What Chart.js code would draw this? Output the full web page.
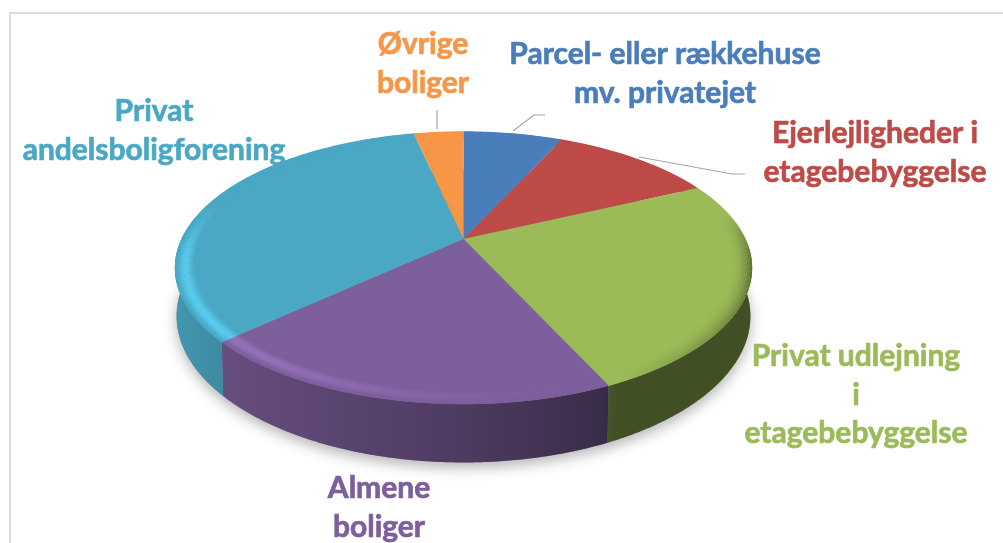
<!DOCTYPE html>
<html>
<head>
<meta charset="utf-8">
<style>
  html, body { margin: 0; padding: 0; background: #fff; }
  #wrap { width: 1003px; height: 543px; }
</style>
<script src="https://cdn.jsdelivr.net/npm/chart.js@4"></script>
</head>
<body>
<div id="wrap"><canvas id="pie" width="1003" height="543"></canvas></div>
<script>
const categories = [
  'Parcel- eller rækkehuse\nmv. privatejet',
  'Ejerlejligheder i\netagebebyggelse',
  'Privat udlejning\ni\netagebebyggelse',
  'Almene\nboliger',
  'Privat\nandelsboligforening',
  'Øvrige\nboliger'
];
const shares = [6.8, 11.2, 25.2, 19.9, 33.5, 3.4];
const sliceColors = ['#4a7ebb', '#be4b48', '#9bbb59', '#7d5f9c', '#4aa8c4', '#f79646'];

// centre of each label block, first baseline
const labelPlaces = [[665, 64], [875, 143], [856, 366], [379, 498], [154, 121], [423, 54]];
const leaders = [
  [[513, 131], [534, 115], [545, 115]],
  [[639, 157], [732, 174], [745, 174]],
  [[437, 110], [437, 129]]
];
// wall brightness left to right, x and factor
const wallStops = [[174, 0.9], [240, 0.8], [460, 0.62], [600, 0.47], [620, 0.42], [760, 0.42]];

// tilt of the disc: circle -> perspective ellipse
const TILT = 0.213, SQUASH = 0.4605, DEPTH = 46, BEVEL = 0.07;

function project(arc, a, r, drop) {
  let u = Math.cos(a) * r, v = Math.sin(a) * r;
  let w = 1 - TILT * v;
  let shrink = drop ? 0.994 : 1;
  return [
    arc.x + arc.outerRadius * shrink * u / w,
    arc.y + arc.outerRadius * SQUASH * v / w + (drop ? drop / w : 0)
  ];
}

function rgb(hex) {
  return [1, 3, 5].map(i => parseInt(hex.substr(i, 2), 16));
}
function shade(c, f) {
  return 'rgb(' + c.map(x => Math.min(255, Math.round(x * f))).join(',') + ')';
}
function clamp01(x) {
  return Math.max(0, Math.min(1, x));
}

const disc3d = {
  id: 'disc3d',
  beforeDatasetsDraw(chart) {
    let ctx = chart.ctx;
    let arcs = chart.getDatasetMeta(0).data;
    let step = Math.PI / 360;

    // frame
    ctx.save();
    ctx.strokeStyle = '#dcdcdc';
    ctx.lineWidth = 2;
    ctx.beginPath();
    ctx.moveTo(10, 543);
    ctx.lineTo(10, 13);
    ctx.lineTo(1003, 13);
    ctx.stroke();
    ctx.restore();

    // soft shadow under the disc
    ctx.save();
    ctx.shadowColor = 'rgba(0,0,0,0.3)';
    ctx.shadowBlur = 14;
    ctx.shadowOffsetY = 5;
    ctx.fillStyle = '#888';
    ctx.beginPath();
    for (let a = 0; a < Math.PI * 2; a += step) {
      let p = project(arcs[0], a, 1, DEPTH);
      ctx.lineTo(p[0], p[1]);
    }
    ctx.closePath();
    ctx.fill();
    ctx.restore();

    // side walls, one gradient per slice
    arcs.forEach((arc, i) => {
      let c = rgb(sliceColors[i]);
      let grad = ctx.createLinearGradient(174, 0, 760, 0);
      wallStops.forEach(s => grad.addColorStop((s[0] - 174) / (760 - 174), shade(c, s[1])));
      ctx.fillStyle = grad;
      let from = Math.max(arc.startAngle, 0.05);
      let to = Math.min(arc.endAngle, Math.PI + 0.05);
      if (to <= from) return;
      ctx.beginPath();
      for (let a = from; a < to; a += step) {
        let p = project(arc, a, 1, 0);
        ctx.lineTo(p[0], p[1]);
      }
      let e = project(arc, to, 1, 0);
      ctx.lineTo(e[0], e[1]);
      for (let a = to; a > from; a -= step) {
        let p = project(arc, a, 1, DEPTH);
        ctx.lineTo(p[0], p[1]);
      }
      let s = project(arc, from, 1, DEPTH);
      ctx.lineTo(s[0], s[1]);
      ctx.closePath();
      ctx.fill();
    });

    // top faces
    arcs.forEach((arc, i) => {
      ctx.fillStyle = sliceColors[i];
      ctx.beginPath();
      let o = project(arc, 0, 0, 0);
      ctx.moveTo(o[0], o[1]);
      for (let a = arc.startAngle; a < arc.endAngle; a += step) {
        let p = project(arc, a, 1, 0);
        ctx.lineTo(p[0], p[1]);
      }
      let e = project(arc, arc.endAngle, 1, 0);
      ctx.lineTo(e[0], e[1]);
      ctx.closePath();
      ctx.fill();
    });

    // rounded rim, lit from the lower left, dark towards the right
    arcs.forEach((arc, i) => {
      let c = rgb(sliceColors[i]);
      let rings = 12;
      for (let n = 0; n < rings; n++) {
        let t = (n + 0.5) / rings;
        let r = 1 - BEVEL * (1 - t);
        for (let a = arc.startAngle; a < arc.endAngle; a += step * 2) {
          let b = Math.min(a + step * 2, arc.endAngle);
          let sa = Math.sin(a);
          let lit = Math.cos(a - Math.PI * 0.85);
          let f;
          if (lit > 0) {
            let bump = Math.sin(Math.PI * t);
            f = 1 + lit * lit * 0.24 * bump * bump * clamp01((sa + 0.3) / 0.4);
          } else {
            f = 1 + lit * 0.6 * t * t * clamp01((sa + 0.2) / 0.4);
          }
          let p = project(arc, a, r, 0), q = project(arc, b, r, 0);
          ctx.strokeStyle = shade(c, f);
          ctx.lineWidth = 1.8;
          ctx.beginPath();
          ctx.moveTo(p[0], p[1]);
          ctx.lineTo(q[0], q[1]);
          ctx.stroke();
        }
      }
    });

    return false;
  },
  afterDraw(chart) {
    let ctx = chart.ctx;
    ctx.save();
    ctx.strokeStyle = '#a6a6a6';
    ctx.lineWidth = 1.2;
    leaders.forEach(line => {
      ctx.beginPath();
      line.forEach(p => ctx.lineTo(p[0], p[1]));
      ctx.stroke();
    });
    ctx.font = 'bold 30px Lato';
    ctx.textAlign = 'center';
    ctx.textBaseline = 'alphabetic';
    ctx.lineWidth = 0.7;
    ctx.lineJoin = 'round';
    chart.data.labels.forEach((label, i) => {
      ctx.fillStyle = ctx.strokeStyle = sliceColors[i];
      label.split('\n').forEach((line, n) => {
        let y = labelPlaces[i][1] + n * 38.7;
        ctx.fillText(line, labelPlaces[i][0], y);
        ctx.strokeText(line, labelPlaces[i][0], y);
      });
    });
    ctx.restore();
  }
};

new Chart(document.getElementById('pie'), {
  type: 'pie',
  data: {
    labels: categories,
    datasets: [{ data: shares, backgroundColor: sliceColors, borderWidth: 0, radius: 282 }]
  },
  options: {
    responsive: false,
    animation: false,
    layout: { padding: { right: 76, bottom: 65 } },
    plugins: { legend: { display: false }, tooltip: { enabled: false } }
  },
  plugins: [disc3d]
});
</script>
</body>
</html>
